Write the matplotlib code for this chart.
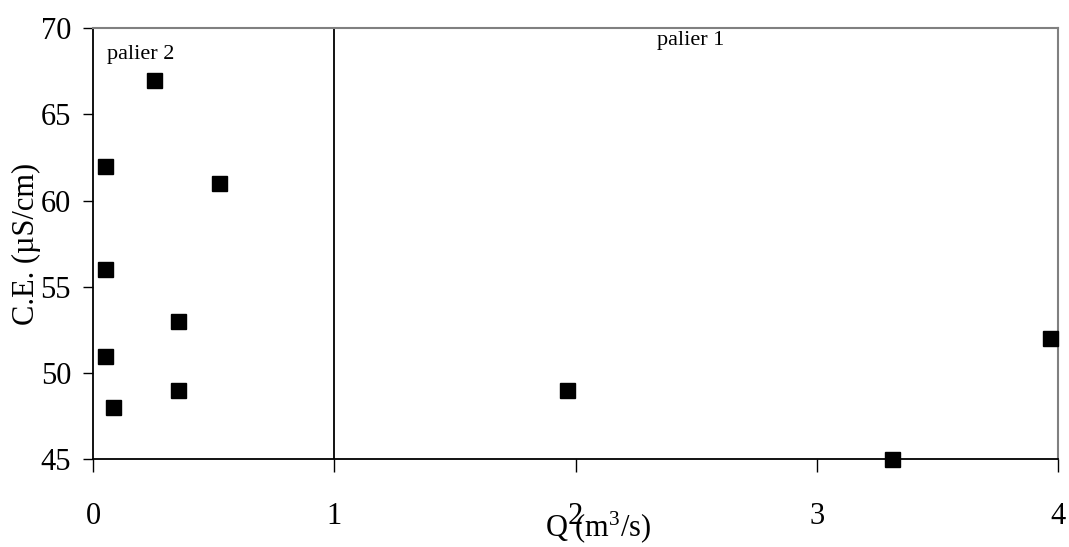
import matplotlib
matplotlib.use("Agg")
import matplotlib.pyplot as plt

plt.rcParams['font.family'] = ['Liberation Serif', 'DejaVu Serif']
plt.rcParams['mathtext.fontset'] = 'custom'
plt.rcParams['mathtext.rm'] = 'Liberation Serif'
plt.rcParams['mathtext.it'] = 'Liberation Serif:italic'

# discharge (m3/s) and conductivity (uS/cm)
q = [0.05, 0.25, 0.52, 0.05, 0.35, 0.05, 0.08, 0.35, 1.965, 3.31, 3.965]
ce = [62, 67, 61, 56, 53, 51, 48, 49, 49, 45, 52]

x_ticks = [0, 1, 2, 3, 4]
y_ticks = [45, 50, 55, 60, 65, 70]
threshold = 1

fig = plt.figure(figsize=(10.69, 5.47), dpi=100)
ax = fig.add_axes([0.0873, 0.1609, 0.9024, 0.7874])

ax.plot(q, ce, linestyle='none', marker='s', markersize=10.8,
        color='black', clip_on=False, zorder=3)
ax.axvline(threshold, color='black', linewidth=1.3)

ax.set_xlim(0, 4)
ax.set_ylim(45, 70)
ax.set_xticks(x_ticks)
ax.set_yticks(y_ticks)
ax.tick_params(axis='x', direction='out', length=9, width=1, pad=22, labelsize=22)
ax.tick_params(axis='y', direction='out', length=7, width=1, pad=9, labelsize=22)

for side in ['top', 'right']:
    ax.spines[side].set_color('#808080')
    ax.spines[side].set_linewidth(1.5)
for side in ['left', 'bottom']:
    ax.spines[side].set_color('black')
    ax.spines[side].set_linewidth(1.3)

ax.set_ylabel('C.E. (µS/cm)', fontsize=22)
ax.yaxis.set_label_coords(-0.054, 0.5)
ax.set_xlabel('Q (m$^3$/s)', fontsize=22)
ax.xaxis.set_label_coords(0.523, -0.117)

ax.text(0.058, 68.5, 'palier 2', fontsize=16, va='center', ha='left')
ax.text(2.336, 69.3, 'palier 1', fontsize=16, va='center', ha='left')

fig.savefig('out.png', dpi=100)
